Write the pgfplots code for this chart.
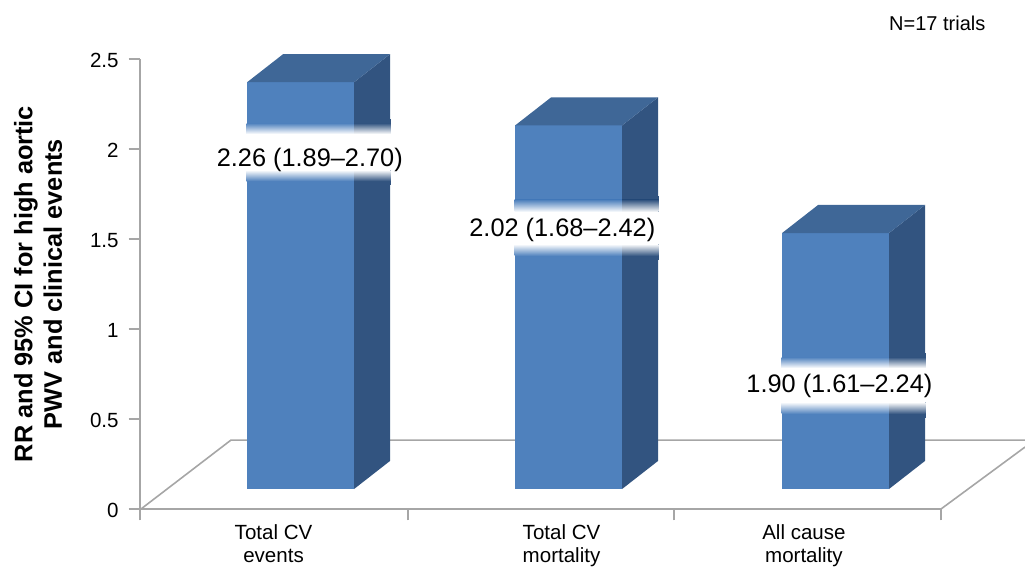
\documentclass[border=0pt]{standalone}
\usepackage{pgfplots}
\pgfplotsset{compat=1.18}
\usepackage{fontspec}
\setmainfont{Liberation Sans}
\definecolor{barfront}{HTML}{4F81BD}
\definecolor{barside}{HTML}{325480}
\definecolor{bartop}{HTML}{3F6797}
\definecolor{axisgray}{HTML}{A6A6A6}
% one face of a bar
\newcommand{\face}[2]{\addplot[draw=none,fill=#1] coordinates {#2} -- cycle;}
% one slice of the white band behind a label
\newcommand{\fade}[3]{\addplot[draw=none,top color=#1,bottom color=#2] coordinates {#3} -- cycle;}
\begin{document}
\begin{tikzpicture}[x=1pt,y=1pt]
\useasboundingbox (-105pt,-43.5pt) rectangle (663.75pt,381.75pt);
\begin{axis}[
    scale only axis,
    width=600.75pt, height=337.5pt,
    xmin=-0.00375, xmax=3,
    ymin=0, ymax=2.5,
    clip=false,
    axis y line=left, axis x line=bottom,
    axis line style={-, draw=axisgray, line width=1.4pt},
    tick style={draw=axisgray, line width=1.4pt},
    tick align=outside,
    major tick length=8.5pt,
    xtick={-0.00375,1,2,3}, xticklabels={},
    ytick={0,0.5,1,1.5,2,2.5},
    yticklabels={0,0.5,1,1.5,2,2.5},
    tick label style={font=\fontsize{15.4}{18}\selectfont},
    y tick label style={xshift=-4pt, yshift=-0.8pt},
    /pgf/number format/assume math mode=true,
]
% floor
\addplot[draw=axisgray, line width=1.2pt] coordinates {(0,0)(0.3375,0.383)(3.315,0.383)};
\addplot[draw=axisgray, line width=1.2pt] coordinates {(3,0)(3.315,0.344)};

% Total CV events
\face{barfront}{(0.398,0.111)(0.799,0.111)(0.799,2.371)(0.398,2.371)}
\face{barside}{(0.799,0.111)(0.934,0.267)(0.934,2.527)(0.799,2.371)}
\face{bartop}{(0.398,2.371)(0.799,2.371)(0.934,2.527)(0.533,2.527)}
\face{barfront}{(0.396,2.167)(0.799,2.167)(0.799,1.800)(0.396,1.800)}
\face{barside}{(0.799,2.167)(0.936,2.167)(0.936,1.800)(0.799,1.800)}
\fade{barfront}{white}{(0.396,2.144)(0.799,2.144)(0.799,2.083)(0.396,2.083)}
\fade{barside}{white}{(0.799,2.144)(0.936,2.144)(0.936,2.083)(0.799,2.083)}
\face{white}{(0.396,2.083)(0.936,2.083)(0.936,1.883)(0.396,1.883)}
\fade{white}{barfront}{(0.396,1.883)(0.799,1.883)(0.799,1.822)(0.396,1.822)}
\fade{white}{barside}{(0.799,1.883)(0.936,1.883)(0.936,1.822)(0.799,1.822)}

% Total CV mortality
\face{barfront}{(1.403,0.111)(1.804,0.111)(1.804,2.131)(1.403,2.131)}
\face{barside}{(1.804,0.111)(1.939,0.267)(1.939,2.287)(1.804,2.131)}
\face{bartop}{(1.403,2.131)(1.804,2.131)(1.939,2.287)(1.538,2.287)}
\face{barfront}{(1.401,1.739)(1.804,1.739)(1.804,1.383)(1.401,1.383)}
\face{barside}{(1.804,1.739)(1.941,1.739)(1.941,1.383)(1.804,1.383)}
\fade{barfront}{white}{(1.401,1.717)(1.804,1.717)(1.804,1.650)(1.401,1.650)}
\fade{barside}{white}{(1.804,1.717)(1.941,1.717)(1.941,1.650)(1.804,1.650)}
\face{white}{(1.401,1.650)(1.941,1.650)(1.941,1.472)(1.401,1.472)}
\fade{white}{barfront}{(1.401,1.472)(1.804,1.472)(1.804,1.406)(1.401,1.406)}
\fade{white}{barside}{(1.804,1.472)(1.941,1.472)(1.941,1.406)(1.804,1.406)}

% All cause mortality
\face{barfront}{(2.404,0.111)(2.805,0.111)(2.805,1.533)(2.404,1.533)}
\face{barside}{(2.805,0.111)(2.940,0.267)(2.940,1.689)(2.805,1.533)}
\face{bartop}{(2.404,1.533)(2.805,1.533)(2.940,1.689)(2.539,1.689)}
\face{barfront}{(2.402,0.867)(2.805,0.867)(2.805,0.506)(2.402,0.506)}
\face{barside}{(2.805,0.867)(2.942,0.867)(2.942,0.506)(2.805,0.506)}
\fade{barfront}{white}{(2.402,0.844)(2.805,0.844)(2.805,0.783)(2.402,0.783)}
\fade{barside}{white}{(2.805,0.844)(2.942,0.844)(2.942,0.783)(2.805,0.783)}
\face{white}{(2.402,0.783)(2.942,0.783)(2.942,0.594)(2.402,0.594)}
\fade{white}{barfront}{(2.402,0.594)(2.805,0.594)(2.805,0.528)(2.402,0.528)}
\fade{white}{barside}{(2.805,0.594)(2.942,0.594)(2.942,0.528)(2.805,0.528)}

% bar labels
\node[font=\fontsize{19}{22}\selectfont] at (axis cs:0.633,1.94) {2.26 (1.89–2.70)};
\node[font=\fontsize{19}{22}\selectfont] at (axis cs:1.58,1.55) {2.02 (1.68–2.42)};
\node[font=\fontsize{19}{22}\selectfont] at (axis cs:2.619,0.683) {1.90 (1.61–2.24)};

% category labels
\node[font=\fontsize{15.4}{17.5}\selectfont, align=center, anchor=north, inner sep=0pt] at (axis cs:0.497,-0.086) {Total CV\\events};
\node[font=\fontsize{15.4}{17.5}\selectfont, align=center, anchor=north, inner sep=0pt] at (axis cs:1.577,-0.086) {Total CV\\mortality};
\node[font=\fontsize{15.4}{17.5}\selectfont, align=center, anchor=north, inner sep=0pt] at (axis cs:2.486,-0.086) {All cause\\mortality};

\node[font=\fontsize{15}{18}\selectfont] at (axis cs:2.986,2.70) {N=17 trials};
\node[font=\bfseries\fontsize{19}{22}\selectfont, align=center, rotate=90] at (axis cs:-0.386,1.25) {RR and 95\% CI for high aortic\\PWV and clinical events};
\end{axis}
\end{tikzpicture}
\end{document}
